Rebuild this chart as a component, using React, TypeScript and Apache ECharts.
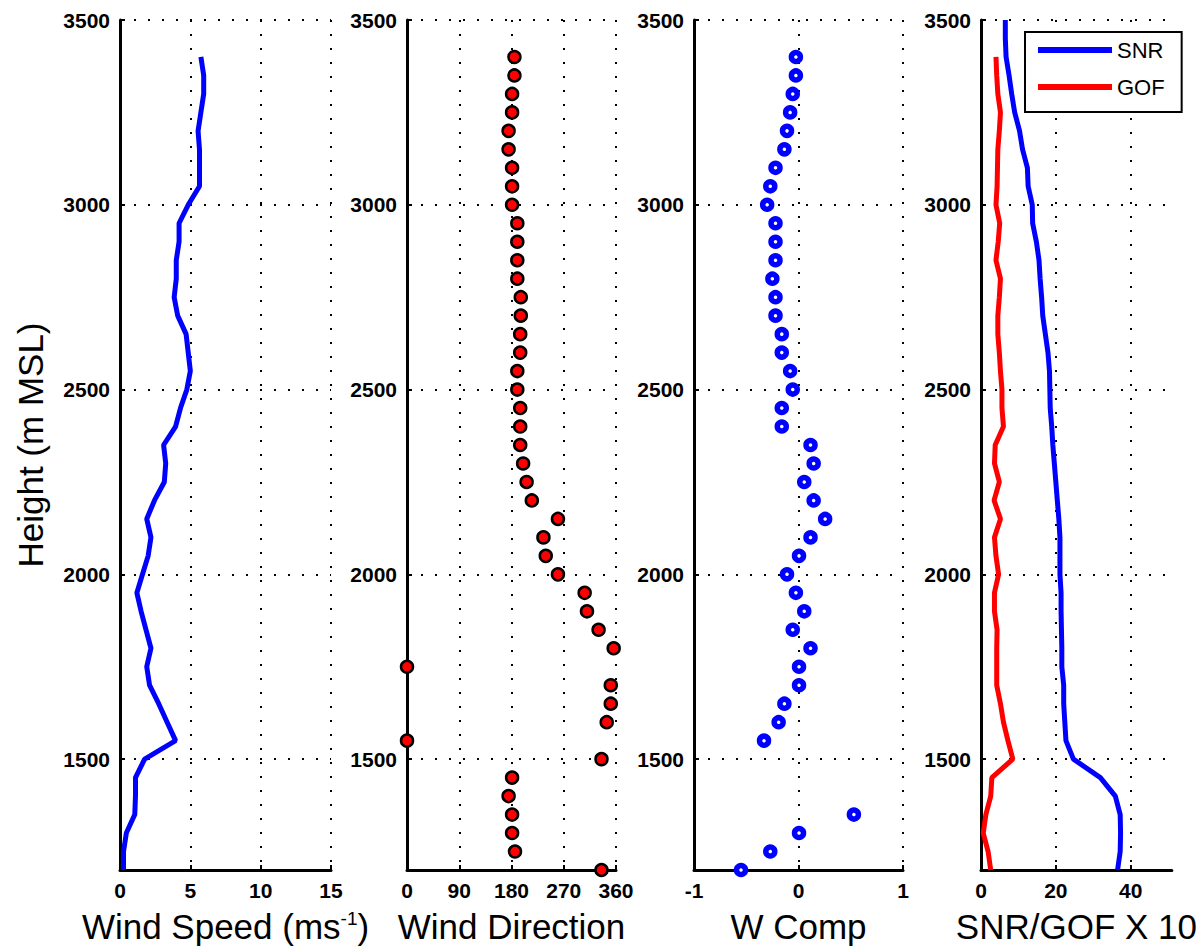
import React, { useEffect, useRef } from 'react';
import * as echarts from 'echarts';

// Range gate heights (m MSL), top to bottom
const heights = [
  3400, 3350, 3300, 3250, 3200, 3150, 3100, 3050, 3000, 2950,
  2900, 2850, 2800, 2750, 2700, 2650, 2600, 2550, 2500, 2450,
  2400, 2350, 2300, 2250, 2200, 2150, 2100, 2050, 2000, 1950,
  1900, 1850, 1800, 1750, 1700, 1650, 1600, 1550, 1500, 1450,
  1400, 1350, 1300, 1250, 1200,
];

const windSpeed = [
  5.75, 5.95, 5.95, 5.75, 5.55, 5.65, 5.65, 5.65, 4.85, 4.2,
  4.2, 4.0, 4.0, 3.85, 4.1, 4.7, 4.85, 5.0, 4.75, 4.3,
  3.95, 3.1, 3.25, 3.15, 2.45, 1.9, 2.2, 2.0, 1.6, 1.2,
  1.5, 1.85, 2.2, 1.9, 2.1, 2.75, 3.35, 3.95, 1.75, 1.1,
  1.1, 1.05, 0.45, 0.25, 0.25,
];

const windDirection = [
  185, 185, 181, 181, 175, 175, 181, 181, 181, 190,
  190, 190, 190, 196, 196, 195, 195, 190, 190, 195,
  195, 195, 200, 206, 215, 260, 235, 239, 260, 306,
  310, 330, 356, 0, 351, 351, 344, 0, 335, 181,
  175, 181, 181, 186, 335,
];

const wComp: (number | null)[] = [
  -0.025, -0.025, -0.055, -0.08, -0.11, -0.135, -0.22, -0.27, -0.3, -0.22,
  -0.22, -0.22, -0.25, -0.22, -0.22, -0.16, -0.16, -0.08, -0.055, -0.16,
  -0.16, 0.115, 0.145, 0.055, 0.145, 0.255, 0.115, 0.005, -0.11, -0.025,
  0.055, -0.055, 0.115, 0.005, 0.005, -0.135, -0.19, -0.33, null, null,
  null, 0.53, 0.005, -0.27, -0.55,
];

const snrHeights = [
  3500, 3450, 3400, 3350, 3300, 3250, 3200, 3150, 3100, 3050,
  3000, 2950, 2900, 2850, 2800, 2750, 2700, 2650, 2600, 2550,
  2500, 2450, 2400, 2350, 2300, 2250, 2200, 2150, 2100, 2050,
  2000, 1950, 1900, 1850, 1800, 1750, 1700, 1650, 1600, 1550,
  1500, 1450, 1400, 1350, 1300, 1250, 1200,
];

const snr = [
  6.5, 6.5, 6.7, 7.5, 8.2, 9.0, 10.3, 11.1, 12.4, 12.6,
  13.7, 13.8, 14.8, 15.5, 15.8, 16.2, 16.5, 17.2, 17.9, 18.3,
  18.4, 18.5, 18.9, 19.2, 19.6, 20.0, 20.4, 20.8, 21.1, 21.1,
  21.1, 21.4, 21.4, 21.5, 21.6, 21.6, 22.1, 22.1, 22.4, 22.7,
  24.7, 31.9, 35.9, 37.2, 37.3, 37.2, 36.5,
];

const gof = [
  4.0, 4.2, 4.5, 5.2, 4.9, 4.5, 4.4, 4.3, 4.0, 5.0,
  4.6, 4.0, 5.2, 4.9, 4.5, 4.5, 4.9, 5.2, 5.6, 5.6,
  6.0, 3.8, 3.6, 4.9, 3.5, 5.2, 3.6, 4.0, 4.7, 3.6,
  3.6, 4.3, 4.2, 4.2, 4.2, 5.2, 6.0, 7.2, 8.5, 2.9,
  2.6, 1.3, 0.6, 1.9, 2.6,
];

const heightRange = [1200, 3500];
const speedAxis = { min: 0, max: 15, interval: 5 };
const dirAxis = { min: 0, max: 360, interval: 90 };
const wAxis = { min: -1, max: 1, interval: 1 };
const snrAxis = { min: 0, max: 51, interval: 20 };

const BLUE = '#0000ff';
const RED = '#ff0000';

const tickFont = { fontFamily: 'Liberation Sans', fontWeight: 'bold' as const, fontSize: 21, color: '#000' };
const nameFont = { fontFamily: 'Liberation Sans', fontSize: 35, color: '#000' };
const dotted = { color: '#000', type: [2, 12] as number[], width: 2 };
const plain = (v: number) => String(v);

function xAxisFor(idx: number, range: any, name: string, extra: any = {}) {
  return {
    type: 'value',
    gridIndex: idx,
    min: range.min,
    max: range.max,
    interval: range.interval,
    name,
    nameLocation: 'middle',
    nameGap: 39,
    nameTextStyle: {
      ...nameFont,
      rich: {
        sup: { fontFamily: 'Liberation Sans', fontSize: 19, color: '#000', verticalAlign: 'top', padding: [0, 0, 14, 0] },
      },
    },
    axisLine: { show: true, onZero: false, lineStyle: { color: '#000', width: 3 } },
    axisTick: { show: true, inside: true, length: 5, lineStyle: { color: '#000', width: 2 } },
    axisLabel: { ...tickFont, margin: 10, formatter: plain, ...(extra.axisLabel || {}) },
    splitLine: { show: true, showMinLine: false, lineStyle: dotted, ...(extra.splitLine || {}) },
  };
}

function yAxisFor(idx: number, name?: string) {
  return {
    type: 'value',
    gridIndex: idx,
    min: heightRange[0],
    max: heightRange[1],
    name: name || '',
    nameLocation: 'middle',
    nameGap: 72,
    nameTextStyle: { ...nameFont },
    axisLine: { show: true, onZero: false, lineStyle: { color: '#000', width: 3 } },
    axisTick: { show: true, inside: true, length: 5, lineStyle: { color: '#000', width: 2 } },
    axisLabel: { ...tickFont, margin: 10, showMinLabel: false, formatter: plain },
    splitLine: { show: true, showMinLine: false, lineStyle: dotted },
  };
}

export default function App() {
  const ref = useRef<HTMLDivElement>(null);
  useEffect(() => {
    document.body.style.margin = '0';
    if (!ref.current) return;
    const chart = echarts.init(ref.current, undefined, { renderer: 'svg' });
    const speedData = heights.map((h, i) => [windSpeed[i], h]);
    const dirData = heights.map((h, i) => [windDirection[i], h]);
    const wData = heights
      .map((h, i) => [wComp[i], h])
      .filter((d) => d[0] !== null);
    const snrData = snrHeights.map((h, i) => [snr[i], h]);
    const gofData = heights.map((h, i) => [gof[i], h]);

    chart.setOption({
      animation: false,
      backgroundColor: '#fff',
      grid: [
        { left: 120, top: 20, width: 211, height: 850 },
        { left: 407, top: 20, width: 209, height: 850 },
        { left: 694, top: 20, width: 209, height: 850 },
        { left: 981, top: 20, width: 210, height: 850 },
      ],
      xAxis: [
        xAxisFor(0, speedAxis, 'Wind Speed (ms{sup|-1})'),
        xAxisFor(1, dirAxis, 'Wind Direction'),
        xAxisFor(2, wAxis, 'W Comp'),
        xAxisFor(3, snrAxis, 'SNR/GOF X 10', {
          axisLabel: { showMaxLabel: false },
          splitLine: { showMaxLine: false },
        }),
      ],
      yAxis: [yAxisFor(0, 'Height (m MSL)'), yAxisFor(1), yAxisFor(2), yAxisFor(3)],
      legend: {
        data: ['SNR', 'GOF'],
        orient: 'vertical',
        left: 1025,
        top: 32,
        icon: 'rect',
        itemWidth: 74,
        itemHeight: 6,
        itemGap: 15,
        padding: [7, 17, 14, 13],
        borderColor: '#000',
        borderWidth: 2,
        backgroundColor: '#fff',
        selectedMode: false,
        textStyle: { fontFamily: 'Liberation Sans', fontSize: 22, color: '#000' },
      },
      series: [
        {
          name: 'Wind Speed',
          type: 'line',
          xAxisIndex: 0,
          yAxisIndex: 0,
          data: speedData,
          showSymbol: false,
          lineStyle: { color: BLUE, width: 5 },
          itemStyle: { color: BLUE },
        },
        {
          name: 'Wind Direction',
          type: 'scatter',
          xAxisIndex: 1,
          yAxisIndex: 1,
          data: dirData,
          symbol: 'circle',
          symbolSize: 12,
          itemStyle: { color: RED, borderColor: '#000', borderWidth: 2.5, opacity: 1 },
        },
        {
          name: 'W Comp',
          type: 'scatter',
          xAxisIndex: 2,
          yAxisIndex: 2,
          data: wData,
          symbol: 'circle',
          symbolSize: 9,
          itemStyle: { color: '#fff', borderColor: BLUE, borderWidth: 5.5, opacity: 1 },
        },
        {
          name: 'SNR',
          type: 'line',
          xAxisIndex: 3,
          yAxisIndex: 3,
          data: snrData,
          showSymbol: false,
          lineStyle: { color: BLUE, width: 5 },
          itemStyle: { color: BLUE },
        },
        {
          name: 'GOF',
          type: 'line',
          xAxisIndex: 3,
          yAxisIndex: 3,
          data: gofData,
          showSymbol: false,
          lineStyle: { color: RED, width: 5 },
          itemStyle: { color: RED },
        },
      ],
    });
    return () => chart.dispose();
  }, []);
  return (
    <div
      ref={ref}
      style={{ position: 'absolute', left: 0, top: 0, width: 1200, height: 949, background: '#fff' }}
    />
  );
}
